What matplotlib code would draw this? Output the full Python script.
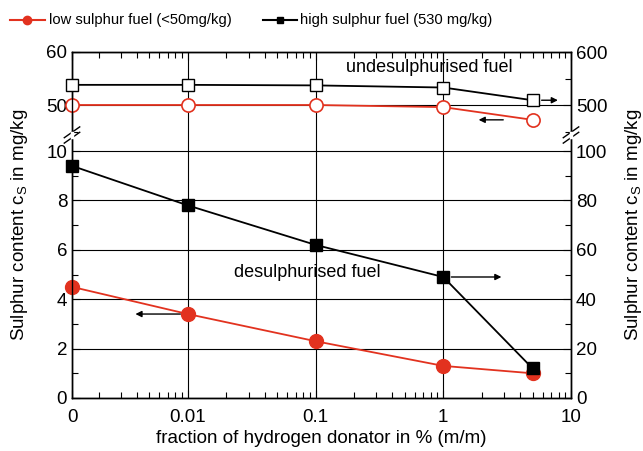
import numpy as np
import matplotlib.pyplot as plt
from matplotlib.ticker import MultipleLocator, LogLocator, NullFormatter

plt.rcParams['font.family'] = ['Liberation Sans', 'DejaVu Sans']
plt.rcParams['font.size'] = 13.5

# hydrogen donator fraction in % (m/m); 0 is drawn at the left edge of the log axis
fraction = [0, 0.01, 0.1, 1, 5]
x_labels = ['0', '0.01', '0.1', '1', '10']

# desulphurised fuel
low_desulph = [4.5, 3.4, 2.3, 1.3, 1.0]        # mg/kg, left axis
high_desulph = [94, 78, 62, 49, 12]            # mg/kg, right axis
# undesulphurised fuel
low_undesulph = [50, 50, 50, 49.6, 47.2]       # mg/kg, left axis
high_undesulph = [538, 538, 537, 533, 509]     # mg/kg, right axis

RED = '#e2321f'
XMIN, XMAX = 0.00124, 10
xpos = np.array([XMIN if f == 0 else f for f in fraction])

fig = plt.figure(figsize=(6.43, 4.51), dpi=100)
L, R = 72 / 643, 571 / 643
y0, ybrk, y1 = 1 - 398 / 451, 1 - 135 / 451, 1 - 52 / 451
ax_top = fig.add_axes([L, ybrk, R - L, y1 - ybrk])
ax_bot = fig.add_axes([L, y0, R - L, ybrk - y0])
ax_top_r = ax_top.twinx()
ax_bot_r = ax_bot.twinx()

for ax in (ax_top, ax_bot):
    ax.set_xscale('log')
    ax.set_xlim(XMIN, XMAX)
    ax.xaxis.set_minor_locator(LogLocator(base=10, subs=np.arange(2, 10)))
    ax.xaxis.set_minor_formatter(NullFormatter())
    ax.set_xticks([XMIN, 0.01, 0.1, 1, 10])
    ax.grid(True, which='major', color='black', linewidth=0.8)

ax_top.set_ylim(44.34, 60)
ax_top_r.set_ylim(443.4, 600)
ax_bot.set_ylim(0, 10.65)
ax_bot_r.set_ylim(0, 106.5)

ax_top.set_yticks([50, 60])
ax_top.yaxis.set_minor_locator(MultipleLocator(5))
ax_top_r.set_yticks([500, 600])
ax_top_r.yaxis.set_minor_locator(MultipleLocator(50))
ax_bot.set_yticks([0, 2, 4, 6, 8, 10])
ax_bot.yaxis.set_minor_locator(MultipleLocator(1))
ax_bot_r.set_yticks([0, 20, 40, 60, 80, 100])
ax_bot_r.yaxis.set_minor_locator(MultipleLocator(10))

ax_bot.set_xticklabels(x_labels)
ax_top.tick_params(axis='x', which='both', bottom=False, top=True, labelbottom=False)
ax_bot.tick_params(axis='x', which='both', top=False, bottom=True)

for ax in (ax_top, ax_bot, ax_top_r, ax_bot_r):
    ax.tick_params(which='both', direction='in', width=0.8, labelsize=13.5)
    ax.tick_params(which='major', length=6)
    ax.tick_params(which='minor', length=4)
    for s in ax.spines.values():
        s.set_linewidth(1.0)
ax_bot.tick_params(axis='x', which='major', pad=8)
ax_top_r.tick_params(axis='x', which='both', top=False, bottom=False)
ax_bot_r.tick_params(axis='x', which='both', top=False, bottom=False)

for ax in (ax_top, ax_top_r):
    ax.spines['bottom'].set_visible(False)
for ax in (ax_bot, ax_bot_r):
    ax.spines['top'].set_visible(False)

# undesulphurised fuel (open symbols)
ax_top.plot(xpos, low_undesulph, color=RED, lw=1.3, marker='o', ms=9.5,
            mfc='white', mec=RED, mew=1.2, clip_on=False, zorder=5)
ax_top_r.plot(xpos, high_undesulph, color='black', lw=1.3, marker='s', ms=8,
              mfc='white', mec='black', mew=1.0, clip_on=False, zorder=5)
# desulphurised fuel (filled symbols)
ax_bot.plot(xpos, low_desulph, color=RED, lw=1.3, marker='o', ms=10,
            mfc=RED, mec=RED, clip_on=False, zorder=5)
ax_bot_r.plot(xpos, high_desulph, color='black', lw=1.3, marker='s', ms=8.5,
              mfc='black', mec='black', clip_on=False, zorder=6)

# arrows pointing to the axis each series belongs to
arrow = dict(arrowstyle='-|>', color='black', lw=1.0, mutation_scale=9)
ax_top_r.annotate('', xy=(8.3, high_undesulph[4]), xytext=(5.6, high_undesulph[4]),
                  arrowprops=arrow)
ax_top.annotate('', xy=(1.8, low_undesulph[4]), xytext=(3.1, low_undesulph[4]),
                arrowprops=arrow)
ax_bot_r.annotate('', xy=(3.0, high_desulph[3]), xytext=(1.1, high_desulph[3]),
                  arrowprops=arrow)
ax_bot.annotate('', xy=(0.0037, low_desulph[1]), xytext=(0.0092, low_desulph[1]),
                arrowprops=arrow)

ax_top.text(0.78, 57.0, 'undesulphurised fuel', ha='center', va='center', fontsize=13)
ax_bot.text(0.087, 5.1, 'desulphurised fuel', ha='center', va='center', fontsize=13)

ax_bot.set_xlabel('fraction of hydrogen donator in % (m/m)', fontsize=13.5, labelpad=3)
fig.text(0.031, (y0 + y1) / 2, 'Sulphur content c$_\\mathregular{S}$ in mg/kg',
         rotation=90, ha='center', va='center', fontsize=13.5)
fig.text(0.986, (y0 + y1) / 2, 'Sulphur content c$_\\mathregular{S}$ in mg/kg',
         rotation=90, ha='center', va='center', fontsize=13.5)

# axis break marks on both spines
for xb in (L, R):
    for dy in (-0.006, 0.006):
        fig.add_artist(plt.Line2D([xb - 0.012, xb + 0.012],
                                  [ybrk + dy - 0.012, ybrk + dy + 0.012],
                                  color='black', lw=1.0))
    fig.add_artist(plt.Line2D([xb, xb], [ybrk - 0.005, ybrk + 0.005],
                              color='white', lw=2.5))

# legend line above the plot
yl = 1 - 20 / 451
fig.add_artist(plt.Line2D([10 / 643, 45 / 643], [yl, yl], color=RED, lw=1.5))
fig.add_artist(plt.Line2D([27.5 / 643], [yl], color=RED, marker='o', ms=6, ls=''))
fig.text(49 / 643, yl, 'low sulphur fuel (<50mg/kg)', va='center', fontsize=10.6)
fig.add_artist(plt.Line2D([263 / 643, 297 / 643], [yl, yl], color='black', lw=1.5))
fig.add_artist(plt.Line2D([280 / 643], [yl], color='black', marker='s', ms=5, ls=''))
fig.text(300 / 643, yl, 'high sulphur fuel (530 mg/kg)', va='center', fontsize=10.6)

fig.savefig('out.png', dpi=100)
